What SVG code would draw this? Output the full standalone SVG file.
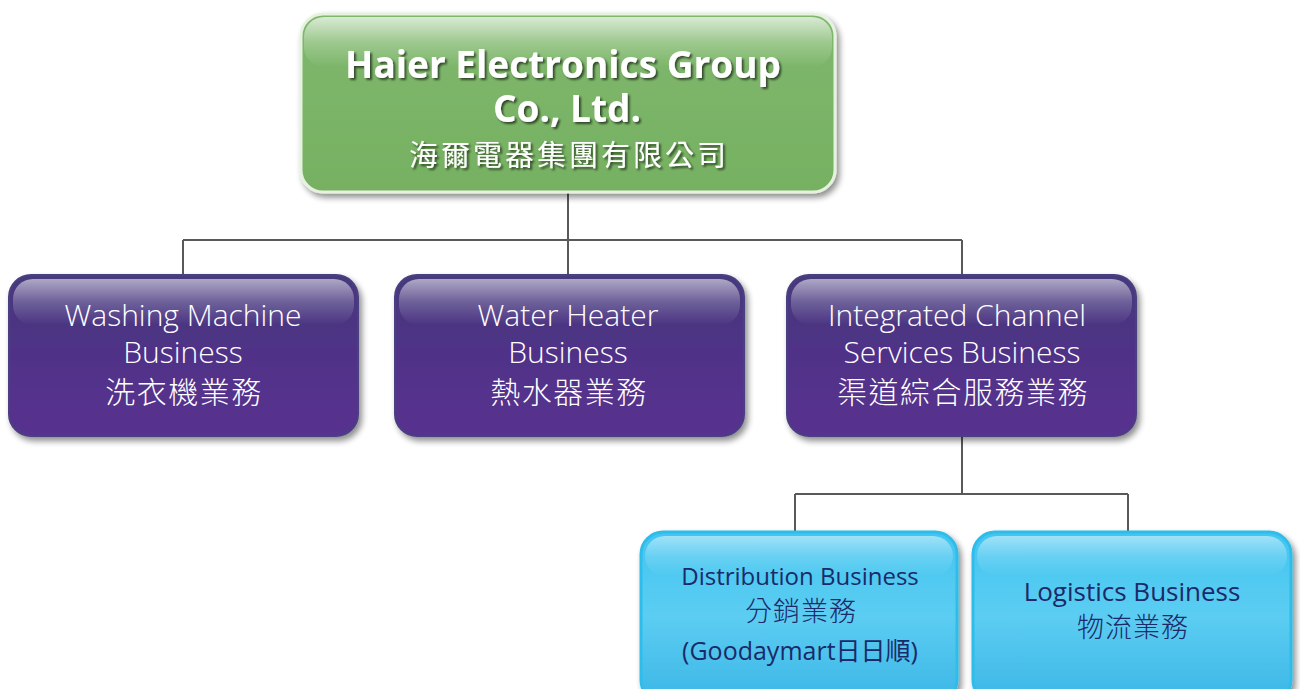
<svg xmlns="http://www.w3.org/2000/svg" width="1300" height="689" viewBox="0 0 1300 689">
<defs>
<linearGradient id="gGreen" x1="0" y1="0" x2="0" y2="1">
<stop offset="0" stop-color="#7fb86d"/><stop offset="1" stop-color="#76b061"/>
</linearGradient>
<linearGradient id="gPurple" x1="0" y1="0" x2="0" y2="1">
<stop offset="0" stop-color="#463a7c"/><stop offset="0.6" stop-color="#52318a"/><stop offset="1" stop-color="#58308f"/>
</linearGradient>
<linearGradient id="gBlue" x1="0" y1="0" x2="0" y2="1">
<stop offset="0" stop-color="#42c5f0"/><stop offset="0.5" stop-color="#5ccdf2"/><stop offset="1" stop-color="#3bb6e6"/>
</linearGradient>
<linearGradient id="gloss" x1="0" y1="0" x2="0" y2="1">
<stop offset="0" stop-color="#ffffff" stop-opacity="0.7"/><stop offset="0.5" stop-color="#ffffff" stop-opacity="0.25"/><stop offset="1" stop-color="#ffffff" stop-opacity="0"/>
</linearGradient>
<filter id="shadow" x="-5%" y="-5%" width="115%" height="120%">
<feGaussianBlur in="SourceAlpha" stdDeviation="3"/>
<feOffset dx="3" dy="4" result="b"/>
<feComponentTransfer><feFuncA type="linear" slope="0.45"/></feComponentTransfer>
<feMerge><feMergeNode/><feMergeNode in="SourceGraphic"/></feMerge>
</filter>
<filter id="tshadow" x="-5%" y="-20%" width="110%" height="150%">
<feGaussianBlur in="SourceAlpha" stdDeviation="1"/>
<feOffset dx="1.5" dy="2" result="b"/>
<feComponentTransfer><feFuncA type="linear" slope="0.6"/></feComponentTransfer>
<feMerge><feMergeNode/><feMergeNode in="SourceGraphic"/></feMerge>
</filter>
</defs>
<style>
.conn{stroke:#595959;stroke-width:2;fill:none}
.title{font-family:"Open Sans","Noto Sans",sans-serif;font-weight:700;font-size:37px;fill:#ffffff;text-anchor:middle}
.titlecn{font-family:"Noto Sans CJK TC",sans-serif;font-weight:400;font-size:29px;fill:#ffffff;text-anchor:middle;letter-spacing:3px}
.ptxt{font-family:"Open Sans","Noto Sans","Noto Sans CJK TC",sans-serif;font-weight:300;font-size:30px;fill:#ffffff;text-anchor:middle}
.pcn{font-family:"Noto Sans CJK TC",sans-serif;font-weight:300;font-size:30px;fill:#ffffff;text-anchor:middle;letter-spacing:1.5px}
.btxt{font-family:"Open Sans","Noto Sans","Noto Sans CJK TC",sans-serif;font-weight:400;font-size:24px;fill:#1b2a68;text-anchor:middle}
.btxt.l{font-size:26px}
.btxt.g{font-size:25px}
.bcn{font-family:"Noto Sans CJK TC",sans-serif;font-weight:300;font-size:27px;fill:#1b2a68;text-anchor:middle;letter-spacing:1px}
</style>
<rect width="1300" height="689" fill="#ffffff"/>
<g id="connectors">
<path class="conn" d="M568 193 V240 M183 240 H962 M183 240 V276 M568 240 V276 M962 240 V276"/>
<path class="conn" d="M962 436 V494 M795 494 H1128 M795 494 V532 M1128 494 V532"/>
</g>
<g id="node-haier">
<rect x="301" y="14" width="534" height="178" rx="22" fill="url(#gGreen)" stroke="#e6f2e0" stroke-width="3" filter="url(#shadow)"/>
<rect x="304" y="17" width="528" height="50" rx="20" fill="url(#gloss)"/>
<g filter="url(#tshadow)">
<text class="title" x="563" y="78">Haier Electronics Group</text>
<text class="title" x="567" y="122">Co., Ltd.</text>
<text class="titlecn" x="569" y="166">海爾電器集團有限公司</text>
</g>
</g>
<g id="node-washing">
<rect x="9" y="275" width="349" height="161" rx="22" fill="url(#gPurple)" stroke="#4a3f82" stroke-width="2" filter="url(#shadow)"/>
<rect x="13" y="279" width="341" height="46" rx="20" fill="url(#gloss)" opacity="0.8"/>
<text class="ptxt" x="183" y="326">Washing Machine</text>
<text class="ptxt" x="183" y="363">Business</text>
<text class="pcn" x="184" y="403">洗衣機業務</text>
</g>
<g id="node-heater">
<rect x="395" y="275" width="349" height="161" rx="22" fill="url(#gPurple)" stroke="#4a3f82" stroke-width="2" filter="url(#shadow)"/>
<rect x="399" y="279" width="341" height="46" rx="20" fill="url(#gloss)" opacity="0.8"/>
<text class="ptxt" x="568" y="326">Water Heater</text>
<text class="ptxt" x="568" y="363">Business</text>
<text class="pcn" x="569" y="403">熱水器業務</text>
</g>
<g id="node-channel">
<rect x="787" y="275" width="349" height="161" rx="22" fill="url(#gPurple)" stroke="#4a3f82" stroke-width="2" filter="url(#shadow)"/>
<rect x="791" y="279" width="341" height="46" rx="20" fill="url(#gloss)" opacity="0.8"/>
<text class="ptxt" x="957" y="326">Integrated Channel</text>
<text class="ptxt" x="962" y="363">Services Business</text>
<text class="pcn" x="963" y="403">渠道綜合服務業務</text>
</g>
<g id="node-distribution">
<rect x="641" y="532" width="316" height="170" rx="22" fill="url(#gBlue)" stroke="#2fbdea" stroke-width="3" filter="url(#shadow)"/>
<rect x="645" y="536" width="308" height="40" rx="20" fill="url(#gloss)" opacity="0.7"/>
<text class="btxt" x="800" y="585">Distribution Business</text>
<text class="bcn" x="801" y="621">分銷業務</text>
<text class="btxt g" x="800" y="660">(Goodaymart日日順)</text>
</g>
<g id="node-logistics">
<rect x="973" y="532" width="318" height="170" rx="22" fill="url(#gBlue)" stroke="#2fbdea" stroke-width="3" filter="url(#shadow)"/>
<rect x="977" y="536" width="310" height="40" rx="20" fill="url(#gloss)" opacity="0.7"/>
<text class="btxt l" x="1132" y="601">Logistics Business</text>
<text class="bcn" x="1133" y="637">物流業務</text>
</g>
</svg>
